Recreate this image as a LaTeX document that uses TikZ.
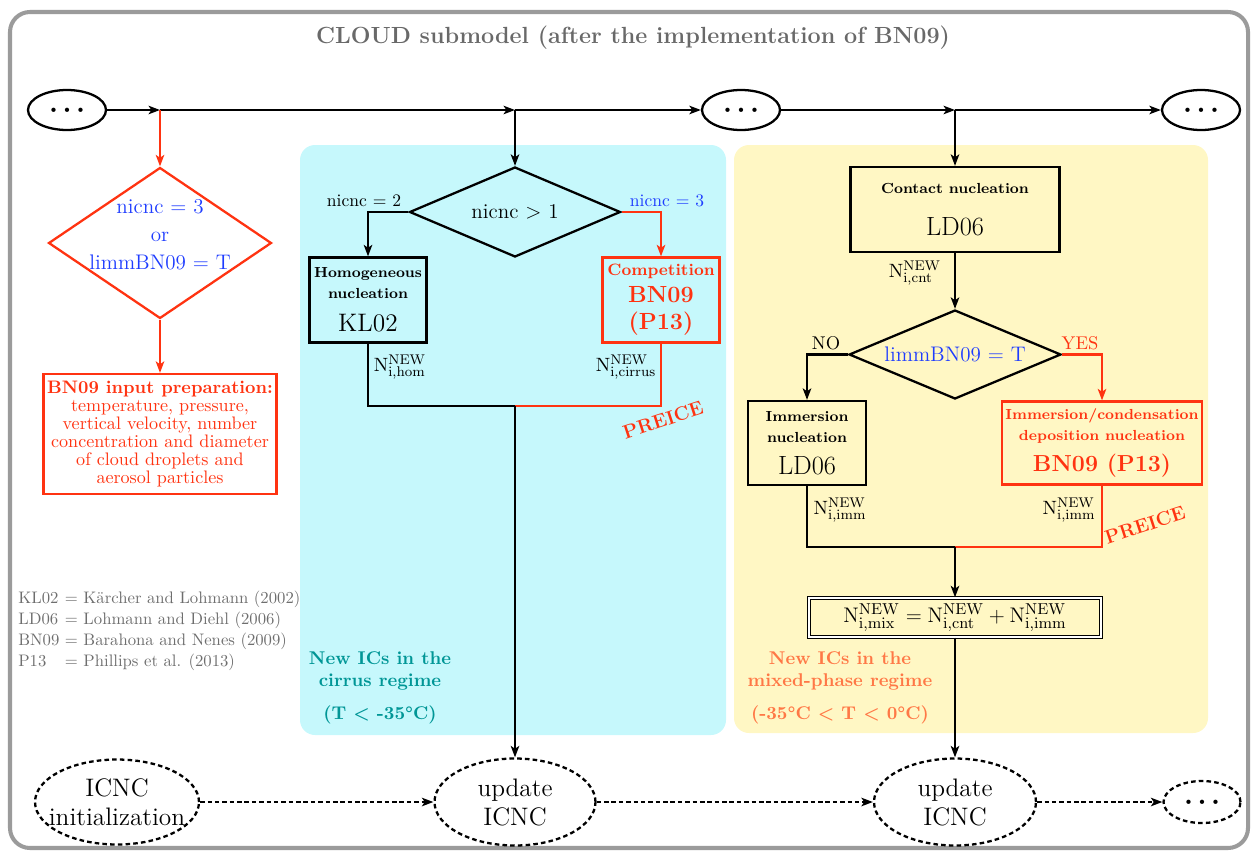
\documentclass[tikz,border=0pt]{standalone}
\usetikzlibrary{shapes.geometric, arrows.meta, positioning}

\definecolor{framegray}{RGB}{155,155,155}
\definecolor{titlegray}{RGB}{105,105,105}
\definecolor{legendgray}{RGB}{110,110,110}
\definecolor{cirrusbg}{RGB}{198,248,252}
\definecolor{mixbg}{RGB}{255,247,196}
\definecolor{cirrustxt}{RGB}{0,150,150}
\definecolor{mixtxt}{RGB}{255,120,70}
\definecolor{redflow}{RGB}{255,51,17}
\definecolor{bluetxt}{RGB}{30,60,255}

\newcommand{\moredots}{{\tiny$\bullet$\hspace{4pt}$\bullet$\hspace{4pt}$\bullet$}}
\newcommand{\nnew}[1]{\mathrm{N^{NEW}_{i,#1}}}

\begin{document}
\begin{tikzpicture}[>={Stealth[length=6.5pt, width=4.8pt, inset=1.6pt]}, x=0.02cm, y=-0.02cm,
    box/.style={draw, rectangle, line width=1.3pt, align=center, inner sep=2pt,
        font=\fontsize{8.3}{12}\selectfont\bfseries},
    redbox/.style={box, draw=redflow, text=redflow},
    decision/.style={draw, diamond, line width=1.3pt, inner sep=0pt},
    dotsnode/.style={draw, ellipse, line width=1.3pt, inner sep=0pt,
        minimum width=1.56cm, minimum height=0.8cm},
    state/.style={draw, ellipse, line width=1.3pt, inner sep=0pt,
        dash pattern=on 2.6pt off 1.8pt},
    statetext/.style={font=\fontsize{14.4}{16.5}\selectfont, align=center},
    link/.style={->, line width=1.2pt},
    redlink/.style={link, draw=redflow},
    flowline/.style={line width=1.2pt},
    redline/.style={flowline, draw=redflow},
    mainlink/.style={->, line width=1.4pt},
    dashlink/.style={->, line width=1.4pt, dash pattern=on 2.6pt off 1.6pt},
    numlab/.style={font=\fontsize{11}{13}\selectfont, inner sep=1pt},
    preice/.style={text=redflow, font=\fontsize{11}{13}\selectfont\bfseries, rotate=18},
    regime/.style={font=\fontsize{10.5}{12.5}\selectfont\bfseries, align=center}]

    \useasboundingbox (0,0) rectangle (1256,852);

    % frame and regime areas
    \draw[framegray, line width=2.3pt, rounded corners=0.4cm] (10,12) rectangle (1248,848);
    \fill[cirrusbg, rounded corners=0.3cm] (300,145) rectangle (726,735);
    \fill[mixbg, rounded corners=0.3cm] (734,145) rectangle (1208,733);

    \node[text=titlegray, font=\fontsize{13.3}{16}\selectfont\bfseries] (title) at (633,38)
        {CLOUD submodel (after the implementation of BN09)};

    % main time line
    \node[dotsnode] (s1) at (67,110) {\moredots};
    \node[dotsnode] (s2) at (741,110) {\moredots};
    \node[dotsnode] (s3) at (1201,110) {\moredots};
    \coordinate (t1) at (160,110);
    \coordinate (t2) at (515,110);
    \coordinate (t3) at (955,110);
    \draw[mainlink] (s1) -- (t1);
    \draw[mainlink] (t1) -- (t2);
    \draw[mainlink] (t2) -- (s2);
    \draw[mainlink] (s2) -- (t3);
    \draw[mainlink] (t3) -- (s3);

    % BN09 input
    \node[decision, draw=redflow, minimum width=4.46cm, minimum height=3.02cm,
        label={[text=bluetxt, align=center, font=\fontsize{12}{16}\selectfont, yshift=0.16cm]center:nicnc = 3\\or\\limmBN09 = T}]
        (bnq) at (160,243) {};
    \node[redbox, minimum width=4.6cm, minimum height=2.4cm, font=\fontsize{10.3}{10.2}\selectfont]
        (prep) at (160,434) {\textbf{BN09 input preparation:}\\temperature, pressure,\\vertical velocity, number\\concentration and diameter\\of cloud droplets and\\aerosol particles};
    \draw[redlink] (t1) -- (bnq.north);
    \draw[redlink] (bnq.south) -- (prep.north);

    % legend
    \node[anchor=west, text=legendgray, font=\fontsize{9.5}{12}\selectfont, inner sep=0pt] (legend) at (18,631)
        {\begin{tabular}{@{}l@{ }l@{}}
         KL02 & = Kärcher and Lohmann (2002)\\
         LD06 & = Lohmann and Diehl (2006)\\
         BN09 & = Barahona and Nenes (2009)\\
         P13  & = Phillips et al. (2013)
         \end{tabular}};

    % cirrus regime
    \node[decision, minimum width=4.22cm, minimum height=1.8cm,
        label={[font=\fontsize{12}{14}\selectfont]center:nicnc > 1}] (nq) at (515,212) {};
    \node[box, minimum width=2.34cm, minimum height=1.7cm] (hom) at (368,300)
        {Homogeneous\\nucleation\\[7pt]{\fontsize{14.4}{16}\selectfont\mdseries KL02}};
    \node[redbox, minimum width=2.34cm, minimum height=1.7cm, font=\fontsize{9.4}{15.4}\selectfont\bfseries] (comp) at (661,300)
        {Competition\\{\fontsize{13.3}{15}\selectfont BN09}\\{\fontsize{13.3}{15}\selectfont (P13)}};
    \coordinate (m1) at (515,406);
    \node[state, minimum width=3.22cm, minimum height=1.74cm,
        label={[statetext]center:update\\ICNC}] (u1) at (515,802) {};

    \draw[link] (t2) -- (nq.north);
    \draw[link] (nq.west) -| (hom.north);
    \draw[redlink] (nq.east) -| (comp.north);
    \draw[flowline] (hom.south) |- (m1);
    \draw[redline] (comp.south) |- (m1);
    \draw[link] (m1) -- (u1.north);

    \node[font=\fontsize{10}{12}\selectfont, inner sep=1pt] (nic2) at (364,201) {nicnc = 2};
    \node[text=bluetxt, font=\fontsize{10}{12}\selectfont, inner sep=1pt] (nic3) at (667,201) {nicnc = 3};
    \node[numlab] (nhom) at (400,367) {$\nnew{hom}$};
    \node[numlab] (ncir) at (626,367) {$\nnew{cirrus}$};
    \node[preice] (pre1) at (663,420) {PREICE};
    \node[regime, text=cirrustxt] (cirlab) at (380,688) {New ICs in the\\cirrus regime\\[6pt](T < -35°C)};

    % mixed-phase regime
    \node[box, minimum width=4.18cm, minimum height=1.7cm] (cnt) at (955,209.5)
        {Contact nucleation\\[12pt]{\fontsize{15}{16}\selectfont\mdseries LD06}};
    \node[decision, minimum width=4.24cm, minimum height=1.78cm,
        label={[text=bluetxt, font=\fontsize{12}{14}\selectfont]center:limmBN09 = T}] (lq) at (955,354.5) {};
    \node[box, minimum width=2.36cm, minimum height=1.68cm] (imm) at (807,443)
        {Immersion\\nucleation\\[6pt]{\fontsize{15}{16}\selectfont\mdseries LD06}};
    \node[redbox, minimum width=3.84cm, minimum height=1.66cm] (bn) at (1102,443)
        {Immersion/condensation\\deposition nucleation\\[6pt]{\fontsize{13.2}{15}\selectfont BN09 (P13)}};
    \coordinate (m2) at (955,547);
    \node[box, double, double distance=0.8pt, line width=0.8pt, minimum width=5.84cm, minimum height=0.78cm,
        font=\fontsize{13}{15}\selectfont] (mix) at (955,617.5)
        {$\nnew{mix} = \nnew{cnt} + \nnew{imm}$};
    \node[state, minimum width=3.24cm, minimum height=1.74cm,
        label={[statetext]center:update\\ICNC}] (u2) at (955,802) {};

    \draw[link] (t3) -- (cnt.north);
    \draw[link] (cnt.south) -- (lq.north);
    \draw[link] (lq.west) -| (imm.north);
    \draw[redlink] (lq.east) -| (bn.north);
    \draw[flowline] (imm.south) |- (m2);
    \draw[redline] (bn.south) |- (m2);
    \draw[link] (m2) -- (mix.north);
    \draw[link] (mix.south) -- (u2.north);

    \node[numlab] (ncnt) at (915,273) {$\nnew{cnt}$};
    \node[font=\fontsize{10.5}{12}\selectfont, inner sep=1pt] (no) at (826,343) {NO};
    \node[text=redflow, font=\fontsize{10.5}{12}\selectfont, inner sep=1pt] (yes) at (1080,343) {YES};
    \node[numlab] (nimm1) at (840,510) {$\nnew{imm}$};
    \node[numlab] (nimm2) at (1069,510) {$\nnew{imm}$};
    \node[preice] (pre2) at (1145,525) {PREICE};
    \node[regime, text=mixtxt] (mixlab) at (840,688) {New ICs in the\\mixed-phase regime\\[6pt](-35°C < T < 0°C)};

    % ICNC updates
    \node[state, minimum width=3.28cm, minimum height=1.7cm,
        label={[statetext]center:ICNC\\initialization}] (init) at (117,802) {};
    \node[state, minimum width=1.54cm, minimum height=0.84cm] (more) at (1202,802) {\moredots};
    \draw[dashlink] (init) -- (u1);
    \draw[dashlink] (u1) -- (u2);
    \draw[dashlink] (u2) -- (more);
\end{tikzpicture}
\end{document}
